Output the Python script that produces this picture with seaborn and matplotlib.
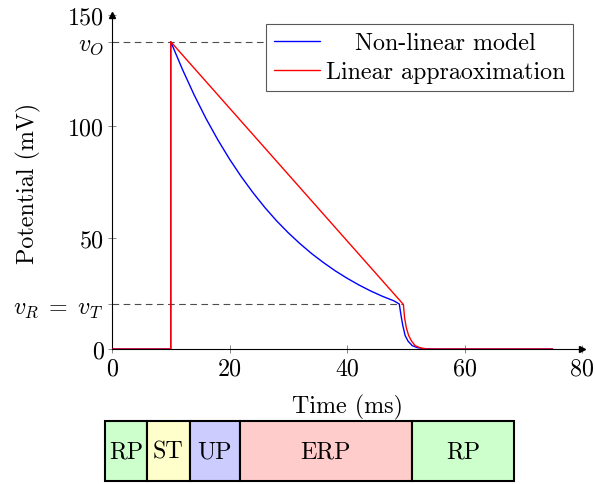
import numpy as np
import pandas as pd
import matplotlib
matplotlib.use('Agg')
import matplotlib.pyplot as plt
import seaborn as sns

sns.set_theme(style='white')
plt.rcParams['font.family'] = 'serif'
plt.rcParams['font.serif'] = ['cmr10']
plt.rcParams['mathtext.fontset'] = 'cm'
plt.rcParams['axes.formatter.use_mathtext'] = True
for k in ['text.color', 'axes.labelcolor', 'xtick.labelcolor', 'ytick.labelcolor']:
    plt.rcParams[k] = 'black'

FS = 17.3

# values
V_O = 138
V_R = 20

t_nonlin = [0, 10, 10, 12, 14, 16, 18, 20, 22, 24, 26, 28, 30, 32, 34, 36, 38, 40,
            42, 44, 46, 48, 48.9, 49.2, 49.5, 49.9, 50.4, 51.1, 52.0, 52.8, 55, 75]
v_nonlin = [0, 0, 138, 125.5, 114, 103.5, 94, 85.3, 77.4, 70.2, 63.6, 57.6, 52.2, 47.3, 42.8, 38.8, 35.1, 31.8,
            28.8, 26.1, 23.7, 21.6, 20.2, 15, 10.5, 6, 3.5, 1.5, 0.6, 0.2, 0, 0]

t_lin = [0, 10, 10, 49.6, 49.8, 50.1, 50.5, 51.0, 51.6, 52.5, 53.6, 75]
v_lin = [0, 0, 138, 20, 14, 9.5, 6, 3.5, 1.5, 0.5, 0, 0]

ytick_vals = [0, V_R, 50, 100, V_O, 150]
ytick_labels = ['0', r'$v_R\;=\;v_T$', '50', '100', r'$v_O$', '150']
xtick_vals = [0, 20, 40, 60, 80]

phase_labels = ['RP', 'ST', 'UP', 'ERP', 'RP']
phase_widths = [42, 43, 50, 173, 102]
phase_colors = ['#ccffcc', '#ffffcc', '#ccccff', '#ffcccc', '#ccffcc']

df_nl = pd.DataFrame({'t': t_nonlin, 'v': v_nonlin})
df_lin = pd.DataFrame({'t': t_lin, 'v': v_lin})

fig = plt.figure(figsize=(5.95, 4.85), dpi=100)
ax = fig.add_axes([112 / 595, 135 / 485, 470 / 595, 334 / 485])

# dashed guide lines
ax.plot([0, 30], [V_O, V_O], color='0.3', lw=0.8, dashes=(6, 4), zorder=1)
ax.plot([0, 49.6], [V_R, V_R], color='0.3', lw=0.8, dashes=(6, 4), zorder=1)

sns.lineplot(data=df_nl, x='t', y='v', sort=False, estimator=None, color='blue',
             lw=1.0, ax=ax, label='Non-linear model', zorder=3)
sns.lineplot(data=df_lin, x='t', y='v', sort=False, estimator=None, color='red',
             lw=1.0, ax=ax, label='Linear appraoximation', zorder=4)

ax.set_xlim(0, 80)
ax.set_ylim(0, 150)
ax.set_xticks(xtick_vals)
ax.set_xticklabels([str(v) for v in xtick_vals])
ax.set_yticks(ytick_vals)
ax.set_yticklabels(ytick_labels)
ax.tick_params(direction='inout', length=6, width=0.6, color='0.45',
               labelsize=FS, labelcolor='black', pad=3, left=True, bottom=True)

for s in ['top', 'right']:
    ax.spines[s].set_visible(False)
for s in ['left', 'bottom']:
    ax.spines[s].set_color('black')
    ax.spines[s].set_linewidth(0.8)

# axis arrow heads
ax.plot(80, 0, marker='>', ms=5, color='black', clip_on=False, zorder=6)
ax.plot(0, 150, marker='^', ms=5, color='black', clip_on=False, zorder=6)

ax.set_xlabel('Time (ms)', fontsize=FS)
ax.set_ylabel('Potential (mV)', fontsize=FS)
ax.xaxis.set_label_coords(0.5, -0.135)
ax.yaxis.set_label_coords(-0.152, 0.5)

leg = ax.legend(loc='upper right', bbox_to_anchor=(573 / 595, 460 / 485),
                bbox_transform=fig.transFigure, borderaxespad=0, fontsize=FS,
                frameon=True, fancybox=False, framealpha=1, edgecolor='0.35',
                handlelength=1.9, handletextpad=0.25, labelspacing=0.3,
                borderpad=0.33)
leg.get_frame().set_linewidth(0.8)
leg.set_zorder(10)

# centre the legend entries like the original
fig.canvas.draw()
renderer = fig.canvas.get_renderer()
texts = leg.get_texts()
widths = [t.get_window_extent(renderer).width for t in texts]
wmax = max(widths)
for t, w in zip(texts, widths):
    t.set_position(((wmax - w) / 2, 0))

# phase strip below the plot
ax2 = fig.add_axes([105 / 595, 3 / 485, 409 / 595, 60 / 485])
lefts = np.cumsum([0] + phase_widths[:-1])
bars = ax2.barh(0, phase_widths, left=lefts, height=1, color=phase_colors,
                edgecolor='black', linewidth=1.5)
for b in bars:
    b.set_clip_on(False)
for lab, l, w in zip(phase_labels, lefts, phase_widths):
    ax2.text(l + w / 2, 0, lab, ha='center', va='center', fontsize=FS, color='black')
ax2.set_xlim(0, sum(phase_widths))
ax2.set_ylim(-0.5, 0.5)
ax2.axis('off')

fig.savefig('out.png', dpi=100)
